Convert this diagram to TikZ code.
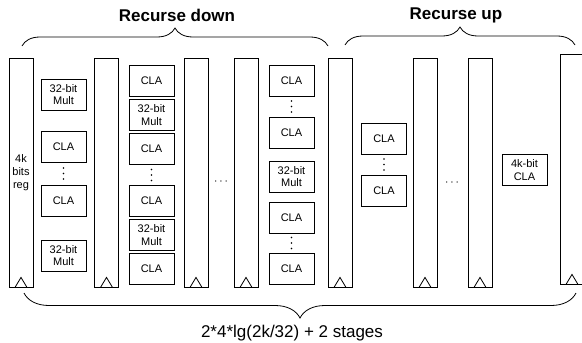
\documentclass[tikz,border=0pt]{standalone}
\usepackage{fontspec}
\setmainfont{Liberation Sans}
\usetikzlibrary{decorations.pathreplacing}
\tikzset{
  reg/.style={draw,line width=0.8pt,minimum width=24pt,minimum height=229pt,inner sep=0pt,align=center,font=\fontsize{11}{13}\selectfont},
  unit/.style={draw,line width=0.8pt,minimum width=45pt,minimum height=31pt,inner sep=0pt,align=center,font=\fontsize{11}{12.5}\selectfont},
  hdot/.style={inner sep=0pt,font=\fontsize{12}{12}\selectfont},
  brc/.style={decorate,decoration={brace,amplitude=#1},line width=0.8pt},
  ttl/.style={font=\fontsize{17}{19}\selectfont\bfseries},
}
% three dots stacked round a named coordinate
\newcommand{\vdts}[1]{\foreach \d in {-5.5,0,5.5}{\fill ([yshift=\d pt]#1) circle (0.9pt);}}

\begin{document}
\begin{tikzpicture}[x=1pt,y=-1pt]
\useasboundingbox (0,0) rectangle (582,343);
%\draw[help lines,step=20] (0,0) grid (582,343);

% registers
\node[reg] (r1) at (21,172.5) {4k\\bits\\reg};
\foreach \n/\x in {2/106.5,3/196,4/246,5/340,6/425,7/480}{
  \node[reg] (r\n) at (\x,172.5) {};
}
\node[reg,minimum height=230pt] (r8) at (572,169) {};
\foreach \n in {1,...,8}{
  \draw[line width=0.8pt] ([xshift=-6pt]r\n.south) -- ++(6,-10) -- ++(6,10);
}

% stage 1
\node[unit] (a1) at (63.5,94.5) {32-bit\\Mult};
\node[unit] (a2) at (63.5,146.5) {CLA};
\coordinate (a3) at (63.5,173.5);
\node[unit] (a4) at (63.5,200.5) {CLA};
\node[unit] (a5) at (63.5,255.5) {32-bit\\Mult};
\vdts{a3}

% stage 2
\node[unit] (b1) at (151.5,81) {CLA};
\node[unit] (b2) at (151.5,115) {32-bit\\Mult};
\node[unit] (b3) at (151.5,149) {CLA};
\coordinate (b4) at (151.5,175);
\node[unit] (b5) at (151.5,201) {CLA};
\node[unit] (b6) at (151.5,235) {32-bit\\Mult};
\node[unit] (b7) at (151.5,268.5) {CLA};
\vdts{b4}

\node[hdot] (e1) at (221,182) {$\cdots$};

% last stage down
\node[unit] (c1) at (291.5,81) {CLA};
\coordinate (c2) at (291.5,106.5);
\node[unit] (c3) at (291.5,132.5) {CLA};
\node[unit] (c4) at (291.5,176.5) {32-bit\\Mult};
\node[unit] (c5) at (291.5,217.5) {CLA};
\coordinate (c6) at (291.5,243);
\node[unit] (c7) at (291.5,268.5) {CLA};
\vdts{c2}
\vdts{c6}

% up
\node[unit] (u1) at (384,138.5) {CLA};
\coordinate (u2) at (384,164.5);
\node[unit] (u3) at (384,190.5) {CLA};
\vdts{u2}

\node[hdot] (e2) at (452,183) {$\cdots$};

\node[unit] (u4) at (524.5,170) {4k-bit\\CLA};

% braces
\coordinate (dl) at (22,46);
\coordinate (dr) at (328,46);
\coordinate (ul) at (345,45);
\coordinate (ur) at (575,45);
\coordinate (sl) at (24,293);
\coordinate (sr) at (576,293);
\draw[brc=18] (dl) -- (dr);
\draw[brc=18] (ul) -- (ur);
\draw[brc=25] (sr) -- (sl);
\node[ttl] (tdown) at (177,15) {Recurse down};
\node[ttl] (tup) at (456,15) {Recurse up};
\node[font=\fontsize{17}{19}\selectfont] (tst) at (292,333) {2*4*lg(2k/32) + 2 stages};
\end{tikzpicture}
\end{document}
